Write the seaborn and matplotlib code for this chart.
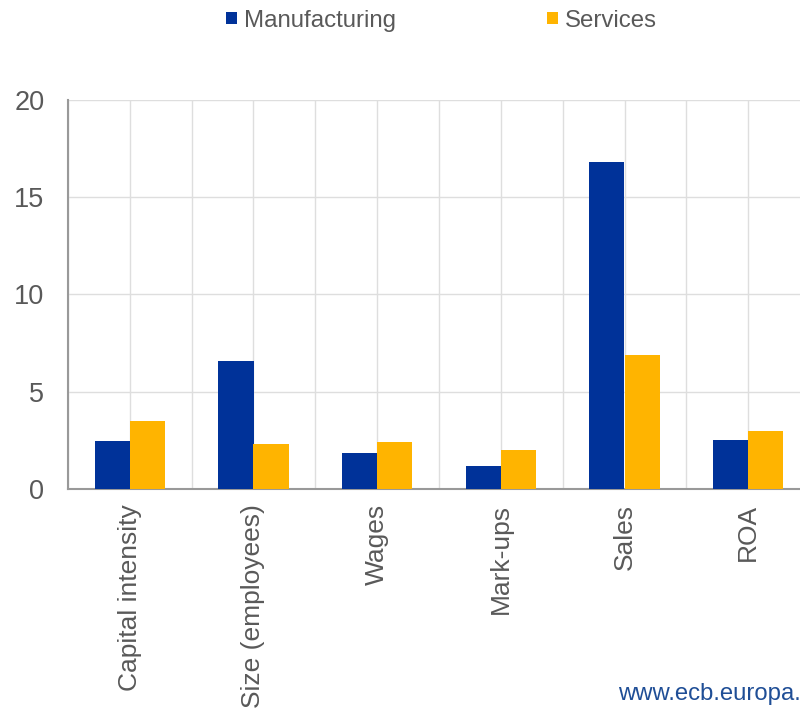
import matplotlib
matplotlib.use("Agg")
import matplotlib.pyplot as plt
from matplotlib.patches import Patch
import seaborn as sns
import pandas as pd
import numpy as np

categories = ["Capital intensity", "Size (employees)", "Wages", "Mark-ups", "Sales", "ROA"]
manufacturing = [2.47, 6.58, 1.87, 1.17, 16.8, 2.5]
services = [3.5, 2.32, 2.42, 2.02, 6.9, 3.0]
series_names = ["Manufacturing", "Services"]
y_ticks = [0, 5, 10, 15, 20]

colors = {"Manufacturing": "#003299", "Services": "#FFB400"}
text_color = "#595959"
axis_color = "#999999"
grid_color = "#dedede"

df = pd.DataFrame({
    "category": categories * 2,
    "series": [series_names[0]] * len(categories) + [series_names[1]] * len(categories),
    "value": manufacturing + services,
})

sns.set_theme(style="white")
plt.rcParams["font.family"] = ["Liberation Sans", "DejaVu Sans"]

fig = plt.figure(figsize=(8.0, 7.09), dpi=100)
ax = fig.add_axes([0.085, 0.3103, 0.9275, 0.5487])

sns.barplot(data=df, x="category", y="value", hue="series", order=categories,
            hue_order=series_names, palette=colors, width=0.57, saturation=1,
            linewidth=0, legend=False, ax=ax, zorder=3)

n = len(categories)
ax.set_xlim(-0.5, n - 0.5)
ax.set_ylim(0, 20)
ax.set_yticks(y_ticks)
ax.set_yticklabels([str(t) for t in y_ticks])

# category labels at centres, tick marks at category boundaries
ax.set_xticks(np.arange(n))
ax.set_xticklabels(categories, rotation=90, va="top", ha="center")
ax.set_xticks(np.arange(n + 1) - 0.5, minor=True)
ax.tick_params(axis="x", which="major", length=0, pad=11, labelsize=19, labelcolor=text_color)
ax.tick_params(axis="x", which="minor", length=8, width=1.5, color=axis_color, direction="out")
ax.tick_params(axis="y", which="major", length=8, width=1.5, color=axis_color, direction="in",
               pad=17, labelsize=19.5, labelcolor=text_color)

ax.grid(True, which="both", axis="x", color=grid_color, linewidth=1, zorder=0)
ax.grid(True, which="major", axis="y", color=grid_color, linewidth=1, zorder=0)
ax.set_axisbelow(True)

for side in ["top", "right"]:
    ax.spines[side].set_visible(False)
for side in ["left", "bottom"]:
    ax.spines[side].set_color(axis_color)
    ax.spines[side].set_linewidth(1.5)

ax.set_xlabel("")
ax.set_ylabel("")

handles = [Patch(facecolor=colors[s], edgecolor="none", label=s) for s in series_names]
leg = fig.legend(handles=handles, loc="center", bbox_to_anchor=(0.552, 0.971), ncol=2,
                 frameon=False, fontsize=17.3, handlelength=0.45, handleheight=0.45,
                 handletextpad=0.3, columnspacing=6.3, labelcolor=text_color)

fig.text(0.772, 0.021, "www.ecb.europa.", color="#1f4e96", fontsize=17.2,
         ha="left", va="center")

fig.savefig("out.png", dpi=100)
